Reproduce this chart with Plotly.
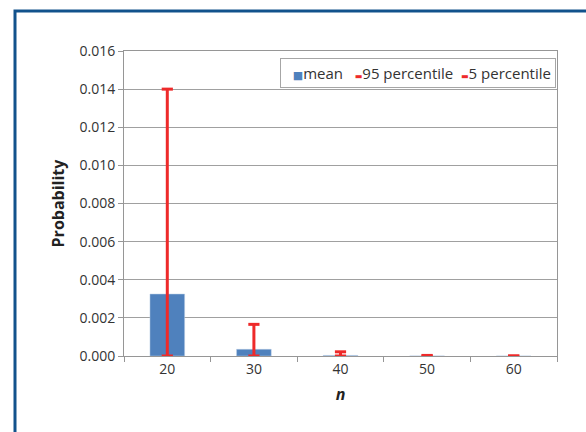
import plotly.graph_objects as go

categories = ["20", "30", "40", "50", "60"]
mean_vals = [0.00325, 0.00035, 0.00003, 0.000005, 0.0]
p95_vals = [0.0140, 0.00166, 0.00022, 0.00003, 0.0]
p5_vals = [0.0, 0.0, 0.0, 0.0, 0.0]
y_ticks = [0.000, 0.002, 0.004, 0.006, 0.008, 0.010, 0.012, 0.014, 0.016]
series_names = ["mean", "95 percentile", "5 percentile"]

RED = "#ee2a2a"
BLUE = "#4f81bd"
FONT = "Open Sans, Lato, DejaVu Sans, sans-serif"

fig = go.Figure()
fig.add_trace(go.Bar(
    x=categories, y=mean_vals, name=series_names[0], width=0.4,
    marker=dict(color=BLUE, line=dict(color="#b8cce4", width=0.5)),
))
fig.add_trace(go.Scatter(
    x=categories, y=p95_vals, name=series_names[1], mode="markers",
    marker=dict(symbol="line-ew", size=8, line=dict(color=RED, width=3)),
))
fig.add_trace(go.Scatter(
    x=categories, y=p5_vals, name=series_names[2], mode="markers",
    marker=dict(symbol="line-ew", size=8, line=dict(color=RED, width=3)),
    error_y=dict(type="data", symmetric=False,
                 array=[h - l for h, l in zip(p95_vals, p5_vals)],
                 arrayminus=[0] * len(p5_vals),
                 color=RED, thickness=3, width=0),
))

L, R, T, B = 124, 29, 51, 76
pw = 586 - L - R
ph = 432 - T - B

fig.update_layout(
    width=586, height=432,
    margin=dict(l=L, r=R, t=T, b=B),
    paper_bgcolor="white", plot_bgcolor="white",
    font=dict(family=FONT, size=14, color="#333333"),
    showlegend=False,
    xaxis=dict(
        type="category", tickson="boundaries", ticks="outside", ticklen=5,
        tickcolor="#969696", showline=True, linecolor="#969696", mirror=True,
        showgrid=False, tickfont=dict(size=14),
        title=dict(text="<b><i>n</i></b>", font=dict(size=16, color="#222222"), standoff=12),
    ),
    yaxis=dict(
        range=[0, 0.016], tickvals=y_ticks, tickformat=".3f",
        ticks="outside", ticklen=5, tickcolor="#969696", tickfont=dict(size=14),
        showline=True, linecolor="#969696", mirror=True,
        showgrid=True, gridcolor="#a0a0a0", gridwidth=1, zeroline=False,
        title=dict(text="<b>Probability</b>", font=dict(size=16, color="#222222"), standoff=10),
    ),
)

# legend drawn as a bordered text box
dash = f"<span style='color:{RED};font-size:8px;font-family:DejaVu Sans'>▬</span>"
legend_text = (
    f"&nbsp;&nbsp;<span style='color:{BLUE};font-size:11px'>■</span>{series_names[0]}&nbsp;&nbsp; "
    f"{dash}{series_names[1]}&nbsp; "
    f"{dash}{series_names[2]}"
)
fig.add_annotation(
    xref="paper", yref="paper", x=(556 - L) / pw, y=1 - (58 - T) / ph,
    xanchor="right", yanchor="top", showarrow=False,
    text=legend_text, font=dict(size=15, color="#333333"),
    bordercolor="#a6a6a6", borderwidth=1, borderpad=4, bgcolor="white",
)

# outer dark-blue frame
x0 = (15 - L) / pw
y0 = 1 + (T - 11) / ph
fig.add_shape(type="path", xref="paper", yref="paper",
              path=f"M {x0},-1 L {x0},{y0} L 2,{y0}",
              line=dict(color="#12528c", width=3))

fig.write_html("out.html", config={"displayModeBar": False},
               post_script="document.body.style.margin='0';")
